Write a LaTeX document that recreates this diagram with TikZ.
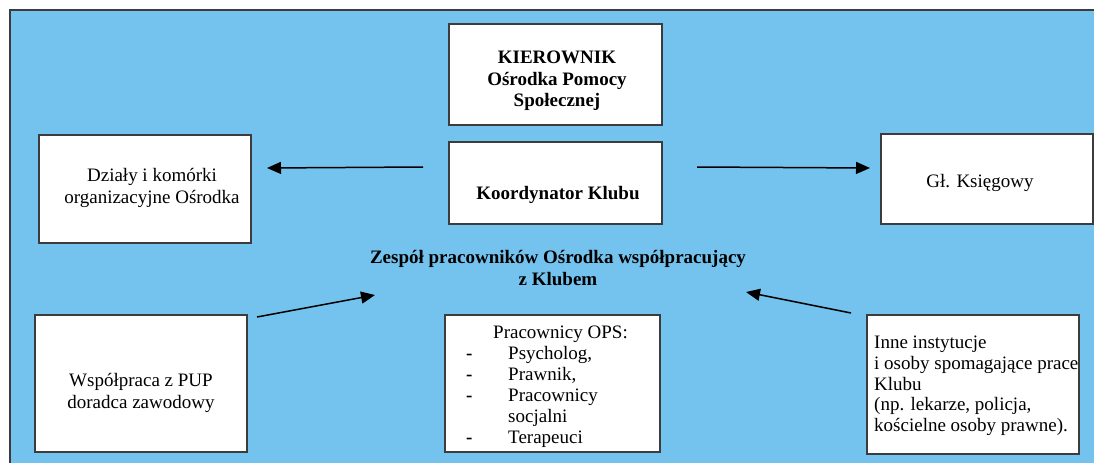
\documentclass[tikz,border=0pt]{standalone}
\usepackage{fontspec}
\setmainfont{Liberation Serif}
\usetikzlibrary{arrows.meta}
\definecolor{bgblue}{RGB}{116,195,238}
\definecolor{edge}{RGB}{60,60,60}
\newcommand{\dashitem}[1]{\makebox[42pt][l]{\textbf{-}}#1}
\newcommand{\noitem}[1]{\makebox[42pt][l]{}#1}
\tikzset{
  box/.style={draw=edge, fill=white, line width=1.2pt, inner sep=0pt, outer sep=0pt},
  txt/.style={inner sep=0pt, align=center, font=\fontsize{19}{22}\selectfont},
  btxt/.style={inner sep=0pt, align=center, font=\fontsize{19}{21.5}\selectfont\bfseries},
  ltxt/.style={inner sep=0pt, align=left, anchor=north west, font=\fontsize{19}{20.7}\selectfont},
  arr/.style={line width=1.5pt, -{Triangle[length=14pt,width=12pt]}}
}
\begin{document}
\begin{tikzpicture}[x=1pt,y=-1pt]
\useasboundingbox (0,0) rectangle (1094,463);
\fill[bgblue] (10,10) rectangle (1094,463);
\draw[edge, line width=1.5pt] (10,463) -- (10,10) -- (1094,10);

% boxes
\node[box, minimum width=213pt, minimum height=101pt] (kier) at (555.5,74.5) {};
\node[btxt] (kiert) at (557,81) {KIEROWNIK\\Ośrodka Pomocy\\ Społecznej};
\node[box, minimum width=213pt, minimum height=82pt] (kor) at (555.5,183) {};
\node[btxt] (kort) at (558,195) {Koordynator Klubu};

\node[box, minimum width=212pt, minimum height=108pt] (dzi) at (145,189) {};
\node[txt] (dzit) at (152,188) {Działy i komórki\\organizacyjne Ośrodka};

\node[box, minimum width=212pt, minimum height=90pt] (ks) at (987,179) {};
\node[txt] (kst) at (980,183) {Gł. Księgowy};

\node[btxt] (zesp) at (558,268) {Zespół pracowników Ośrodka współpracujący\\z Klubem};

\node[box, minimum width=212pt, minimum height=137pt] (pup) at (141,383.5) {};
\node[txt] (pupt) at (141,393) {Współpraca z PUP\\doradca zawodowy};

\node[box, minimum width=215pt, minimum height=137pt] (ops) at (552.5,383.5) {};
\node[ltxt, font=\fontsize{19}{21}\selectfont] (opsl) at (466,326) {\hspace{27pt}Pracownicy OPS:\\\dashitem{Psycholog,}\\\dashitem{Prawnik,}\\\dashitem{Pracownicy}\\\noitem{socjalni}\\\dashitem{Terapeuci}};

\node[box, minimum width=212pt, minimum height=139pt] (inne) at (973,384.5) {};
\node[ltxt] (innet) at (874,336) {Inne instytucje\\i osoby spomagające prace\\Klubu\\(np. lekarze, policja,\\kościelne osoby prawne).};

% arrow ends
\coordinate (a1s) at (423,167);
\coordinate (a1e) at (267,168);
\coordinate (a2s) at (697,167);
\coordinate (a2e) at (870,168);
\coordinate (a3s) at (257,317);
\coordinate (a3e) at (375,295);
\coordinate (a4s) at (851,313);
\coordinate (a4e) at (746,292);

\draw[arr] (a1s) -- (a1e);
\draw[arr] (a2s) -- (a2e);
\draw[arr] (a3s) -- (a3e);
\draw[arr] (a4s) -- (a4e);
\end{tikzpicture}
\end{document}
